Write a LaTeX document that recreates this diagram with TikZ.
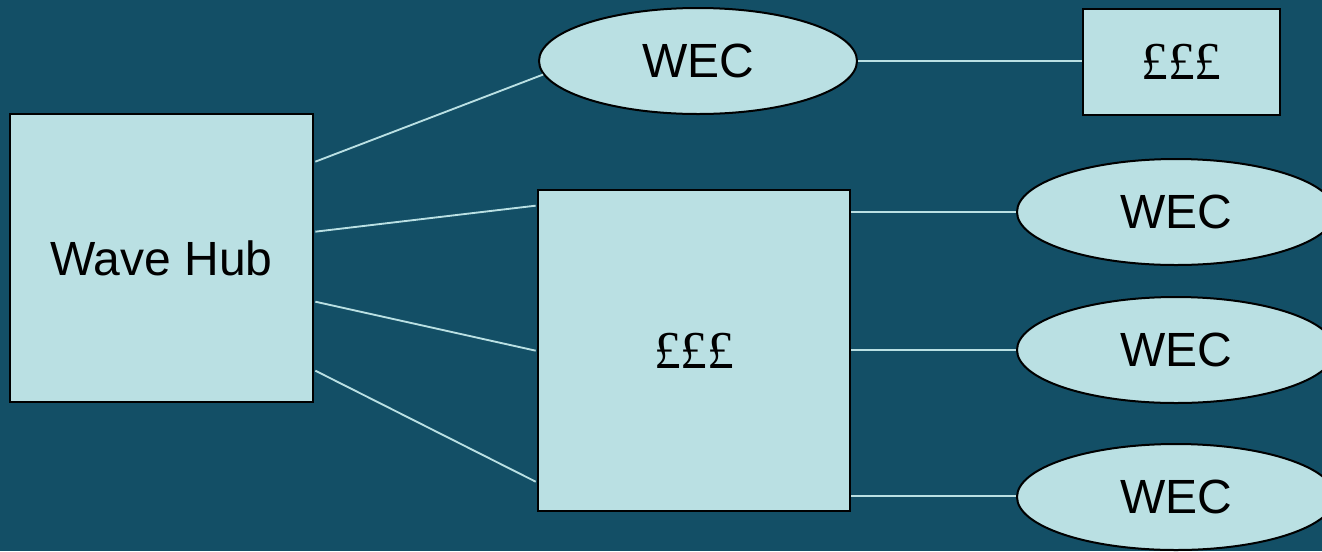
\documentclass[tikz,border=0pt]{standalone}
\usepackage{fontspec}
\setmainfont{Liberation Sans}
\newfontfamily\poundfont{Liberation Serif}
\usetikzlibrary{shapes.geometric,calc}
\definecolor{bgteal}{RGB}{19,79,102}
\definecolor{boxfill}{RGB}{186,224,227}
\definecolor{linecol}{RGB}{186,224,227}
\begin{document}
\begin{tikzpicture}[x=0.75pt,y=-0.75pt,
  boxnode/.style={draw=black,line width=2pt,fill=boxfill,rectangle,inner sep=0pt,font=\fontsize{36}{40}\selectfont},
  ellnode/.style={draw=black,line width=1.5pt,fill=boxfill,ellipse,inner sep=0pt,minimum width=238.5pt,minimum height=79.5pt,font=\fontsize{36}{40}\selectfont},
  conn/.style={draw=linecol,line width=1.4pt}]
\useasboundingbox (0,0) rectangle (1322,551);
\fill[bgteal] (0,0) rectangle (1322,551);
\clip (0,0) rectangle (1322,551);
% nodes
\node[boxnode,minimum width=227.25pt,minimum height=216pt] (hub) at (161.5,258) {Wave Hub};
\node[ellnode] (w0) at (698,61) {WEC};
\node[boxnode,minimum width=147.75pt,minimum height=79.5pt,font=\fontsize{40}{44}\poundfont] (p0) at (1181.5,62) {£££};
\node[boxnode,minimum width=234pt,minimum height=240.75pt,font=\fontsize{40}{44}\poundfont] (big) at (694,350.5) {£££};
\node[ellnode] (e1) at (1176,212) {WEC};
\node[ellnode] (e2) at (1176,350) {WEC};
\node[ellnode] (e3) at (1176,497) {WEC};
% connectors
\draw[conn] ($(hub.north east)+(1,49)$) -- (w0.185);
\draw[conn] ($(hub.north east)+(1,119)$) -- ($(big.north west)+(-1,17)$);
\draw[conn] ($(hub.north east)+(1,189)$) -- ($(big.north west)+(-1,162)$);
\draw[conn] ($(hub.north east)+(1,258)$) -- ($(big.north west)+(-1,293)$);
\draw[conn] (w0.east) -- (w0.east -| p0.west);
\draw[conn] (big.east |- e1.west) -- (e1.west);
\draw[conn] (big.east |- e2.west) -- (e2.west);
\draw[conn] ($(big.east |- e3.west)+(0,-1)$) -- ($(e3.west)+(0,-1)$);
\end{tikzpicture}
\end{document}
